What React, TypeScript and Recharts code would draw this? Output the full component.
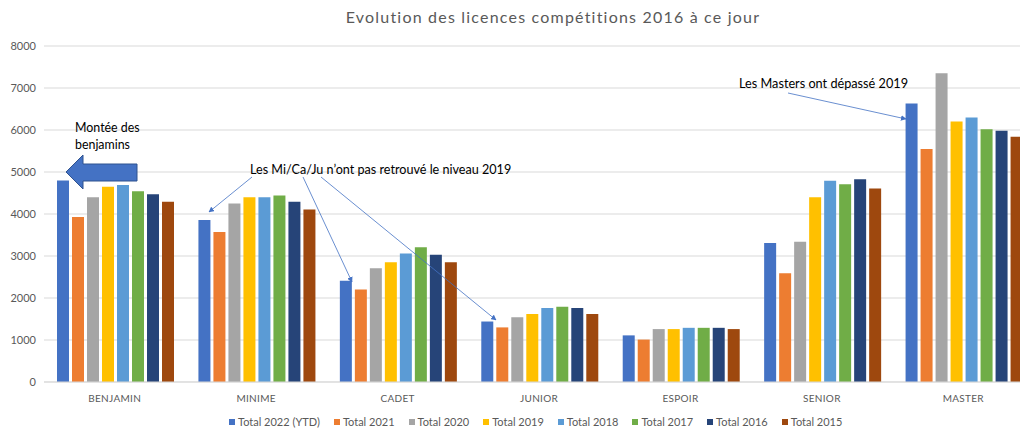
import { BarChart, Bar, XAxis, YAxis, CartesianGrid } from 'recharts';

const categories = ['BENJAMIN', 'MINIME', 'CADET', 'JUNIOR', 'ESPOIR', 'SENIOR', 'MASTER'];

const total2022 = [4800, 3860, 2410, 1440, 1110, 3310, 6630];
const total2021 = [3930, 3570, 2200, 1300, 1010, 2590, 5550];
const total2020 = [4400, 4250, 2710, 1540, 1260, 3340, 7350];
const total2019 = [4650, 4400, 2850, 1620, 1260, 4400, 6200];
const total2018 = [4690, 4400, 3060, 1760, 1290, 4790, 6300];
const total2017 = [4540, 4440, 3210, 1790, 1290, 4710, 6020];
const total2016 = [4470, 4290, 3030, 1760, 1290, 4830, 5980];
const total2015 = [4290, 4110, 2850, 1620, 1260, 4610, 5840];

const yTicks = [0, 1000, 2000, 3000, 4000, 5000, 6000, 7000, 8000];

const series = [
  { key: 't2022', name: 'Total 2022 (YTD)', color: '#4472C4', values: total2022 },
  { key: 't2021', name: 'Total 2021', color: '#ED7D31', values: total2021 },
  { key: 't2020', name: 'Total 2020', color: '#A5A5A5', values: total2020 },
  { key: 't2019', name: 'Total 2019', color: '#FFC000', values: total2019 },
  { key: 't2018', name: 'Total 2018', color: '#5B9BD5', values: total2018 },
  { key: 't2017', name: 'Total 2017', color: '#70AD47', values: total2017 },
  { key: 't2016', name: 'Total 2016', color: '#264478', values: total2016 },
  { key: 't2015', name: 'Total 2015', color: '#9E480E', values: total2015 },
];

const data = categories.map((cat, i) => {
  const row: Record<string, string | number> = { category: cat };
  series.forEach((s) => {
    row[s.key] = s.values[i];
  });
  return row;
});

const FONT = 'Lato, "Open Sans", sans-serif';
const GREY = '#595959';

// legend kept outside the chart so it doesn't shrink the plot area
function ChartLegend() {
  return (
    <div
      style={{
        position: 'absolute',
        left: 229,
        top: 414,
        display: 'flex',
        gap: 14,
        fontFamily: FONT,
        fontSize: 11,
        lineHeight: '16px',
        color: GREY,
        whiteSpace: 'nowrap',
      }}
    >
      {series.map((s) => (
        <div key={s.key} style={{ display: 'flex', alignItems: 'center', gap: 3 }}>
          <span style={{ width: 6, height: 6, background: s.color, display: 'inline-block' }} />
          <span>{s.name}</span>
        </div>
      ))}
    </div>
  );
}

// title + callouts drawn on top
function Annotations() {
  const line = '#4472C4';
  return (
    <svg
      width={1020}
      height={428}
      style={{ position: 'absolute', left: 0, top: 0, pointerEvents: 'none' }}
    >
      <defs>
        <marker id="tri" viewBox="0 0 10 10" refX="9" refY="5" markerWidth="7" markerHeight="7" orient="auto">
          <path d="M0,0 L10,5 L0,10 z" fill={line} />
        </marker>
      </defs>
      <text x={553} y={23} textAnchor="middle" fontFamily={FONT} fontSize={16} fill={GREY} letterSpacing={1.2}>
        Evolution des licences compétitions 2016 à ce jour
      </text>

      <text x={75} y={132} fontFamily={FONT} fontSize={12.4} fill="#000">Montée des</text>
      <text x={75} y={149} fontFamily={FONT} fontSize={12.4} fill="#000">benjamins</text>
      <polygon
        points="66,172 83,155 83,164 137,164 137,181 83,181 83,189"
        fill="#4472C4"
        stroke="#2F528F"
        strokeWidth={1}
      />

      <text x={250} y={174} fontFamily={FONT} fontSize={12.6} fill="#000">
        Les Mi/Ca/Ju n’ont pas retrouvé le niveau 2019
      </text>
      <line x1={252} y1={177} x2={209} y2={212} stroke={line} strokeWidth={0.8} markerEnd="url(#tri)" />
      <line x1={303} y1={177} x2={352} y2={282} stroke={line} strokeWidth={0.8} markerEnd="url(#tri)" />
      <line x1={321} y1={177} x2={496} y2={320} stroke={line} strokeWidth={0.8} markerEnd="url(#tri)" />

      <text x={739} y={88} fontFamily={FONT} fontSize={12.7} fill="#000">Les Masters ont dépassé 2019</text>
      <line x1={788} y1={93} x2={906} y2={119} stroke={line} strokeWidth={0.8} markerEnd="url(#tri)" />
    </svg>
  );
}

export default function App() {
  return (
    <div
      style={{
        position: 'fixed',
        left: 0,
        top: 0,
        width: 1020,
        height: 428,
        overflow: 'hidden',
        background: '#fff',
      }}
    >
      <BarChart
        width={1040}
        height={428}
        data={data}
        margin={{ top: 46, right: 6, left: 0, bottom: 26 }}
        barCategoryGap={13}
        barGap={3}
      >
        <CartesianGrid vertical={false} stroke="#D9D9D9" />
        <XAxis
          dataKey="category"
          height={20}
          tickLine={false}
          axisLine={{ stroke: '#D9D9D9' }}
          tickMargin={7}
          tick={{ fill: GREY, fontSize: 10, fontFamily: FONT, letterSpacing: 0.3 }}
          interval={0}
        />
        <YAxis
          width={44}
          domain={[0, 8000]}
          ticks={yTicks}
          tickLine={false}
          axisLine={false}
          tick={{ fill: GREY, fontSize: 11, fontFamily: FONT }}
        />
        {series.map((s) => (
          <Bar key={s.key} dataKey={s.key} name={s.name} fill={s.color} isAnimationActive={false} />
        ))}
      </BarChart>
      <ChartLegend />
      <Annotations />
    </div>
  );
}
